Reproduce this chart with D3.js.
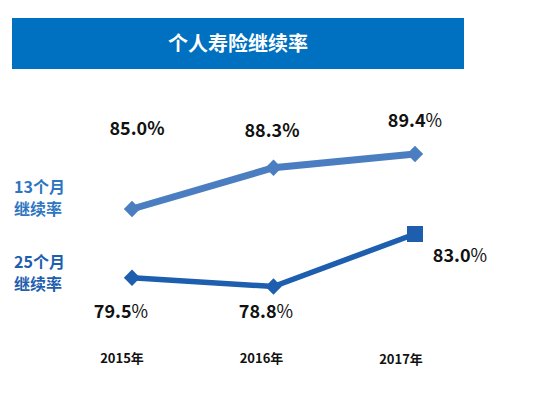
<!DOCTYPE html>
<html><head><meta charset="utf-8">
<script src="https://cdn.jsdelivr.net/npm/d3@7"></script>
<style>body{margin:0;background:#fff}svg{display:block}</style>
</head><body>
<script>
const categories = ["2015年","2016年","2017年"];
const series13 = [85.0, 88.3, 89.4];
const series25 = [79.5, 78.8, 83.0];
const labels13 = ["85.0","88.3","89.4"];
const labels25 = ["79.5","78.8","83.0"];
const title = "个人寿险继续率";

const W=549,H=394;
const svg=d3.select("body").append("svg").attr("width",W).attr("height",H);
const font="'Noto Sans CJK SC','Noto Sans',sans-serif";

svg.append("rect").attr("x",12).attr("y",18).attr("width",452).attr("height",51).attr("fill","#0070C0");
svg.append("text").attr("x",238).attr("y",51).attr("text-anchor","middle").attr("fill","#fff")
  .attr("font-family",font).attr("font-weight","bold").attr("font-size",20).text(title);

const x=d3.scalePoint().domain(categories).range([132,415]);
const y=d3.scaleLinear().domain([85,89.4]).range([209,154]);

const line=d3.line().x((d,i)=>x(categories[i])).y(d=>y(d));
const c13="#4A7EC0", c25="#1E5EAF";

svg.append("path").datum(series13).attr("d",line).attr("fill","none").attr("stroke",c13).attr("stroke-width",7);
svg.append("path").datum(series25).attr("d",line).attr("fill","none").attr("stroke",c25).attr("stroke-width",5.5);

const diamond=d3.symbol().type(d3.symbolDiamond2).size(170);
svg.selectAll(".d13").data(series13).enter().append("path")
  .attr("transform",(d,i)=>`translate(${x(categories[i])},${y(d)})`).attr("d",diamond).attr("fill",c13);
svg.selectAll(".d25").data(series25.slice(0,2)).enter().append("path")
  .attr("transform",(d,i)=>`translate(${x(categories[i])},${y(d)})`).attr("d",diamond).attr("fill",c25);
svg.append("rect").attr("x",x(categories[2])-8).attr("y",y(series25[2])-8).attr("width",16).attr("height",16).attr("fill",c25);

function vlabel(cx,cy,t,boldPct,anchor){
  const tx=svg.append("text").attr("x",cx).attr("y",cy).attr("text-anchor",anchor||"middle")
    .attr("font-family",font).attr("font-size",18).attr("fill","#111");
  tx.append("tspan").attr("font-weight","bold").text(t);
  tx.append("tspan").attr("font-weight",boldPct?"bold":"normal").text("%");
}
vlabel(137,135,labels13[0],true);
vlabel(272,137,labels13[1],true);
vlabel(415,127,labels13[2],false);
vlabel(121,318,labels25[0],false);
vlabel(266,318,labels25[1],false);
vlabel(460,262,labels25[2],false);

const sl=[{t:["13个月","继续率"],c:"#2E75C2",y:193},{t:["25个月","继续率"],c:"#1E5EAF",y:268}];
sl.forEach(s=>{
  s.t.forEach((tt,i)=>{
    svg.append("text").attr("x",14).attr("y",s.y+i*22).attr("font-family",font).attr("font-weight","bold")
      .attr("font-size",16).attr("fill",s.c).text(tt);
  });
});

const xl=d3.scalePoint().domain(categories).range([122,401]);
svg.selectAll(".xl").data(categories).enter().append("text")
  .attr("x",d=>xl(d)).attr("y",d=>d==="2017年"?364:363).attr("text-anchor","middle")
  .attr("font-family",font).attr("font-weight","bold").attr("font-size",13).attr("fill","#111").text(d=>d);
</script>
</body></html>
